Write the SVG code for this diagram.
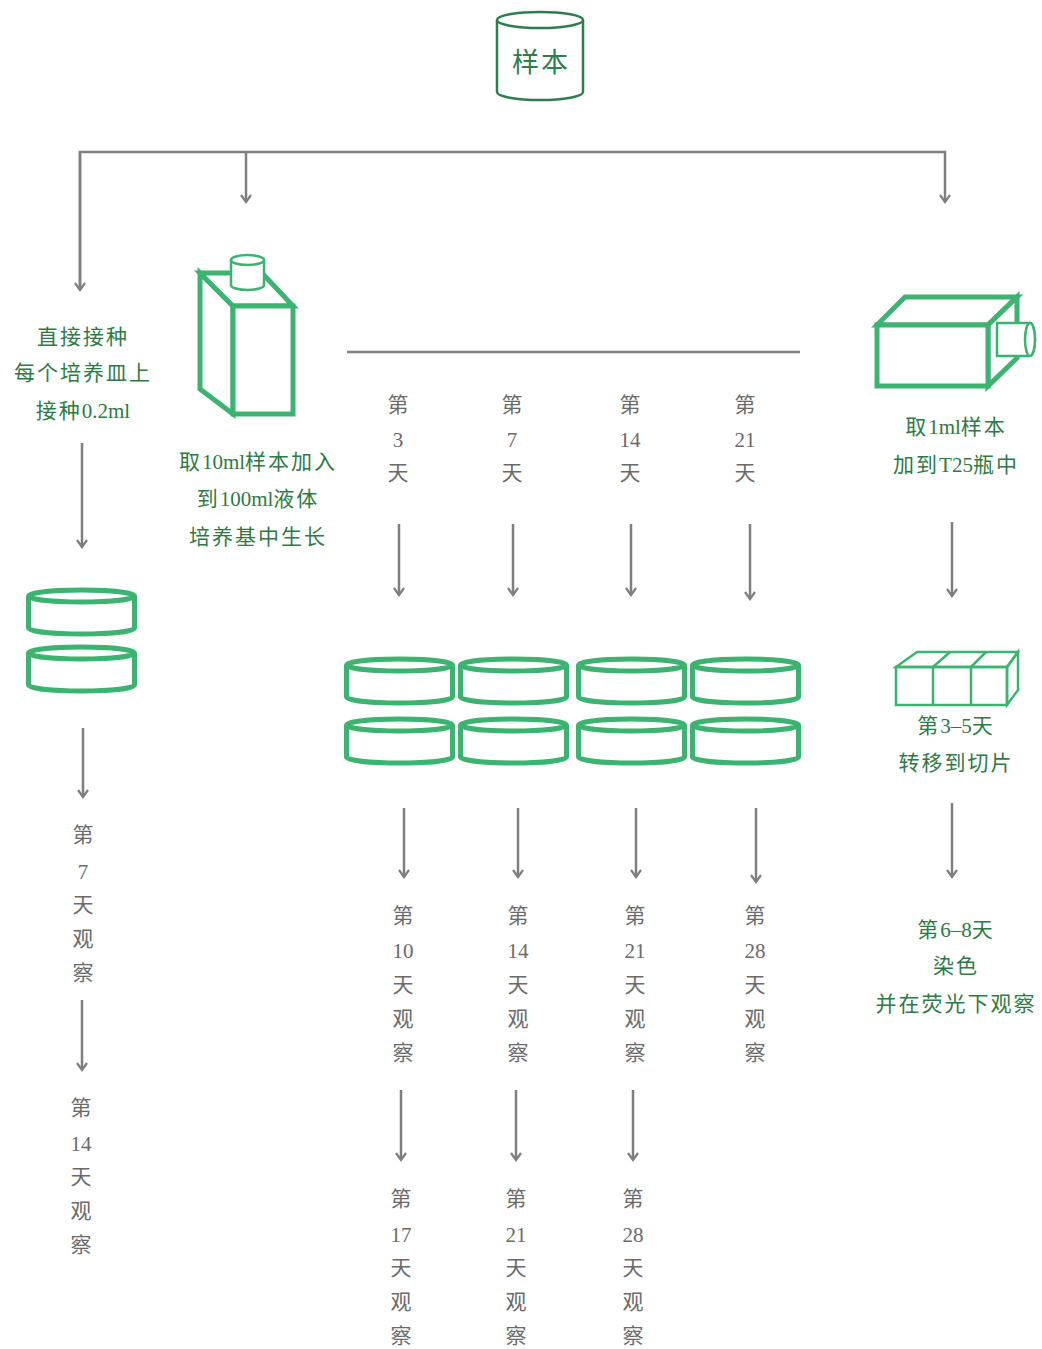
<svg xmlns="http://www.w3.org/2000/svg" width="1042" height="1349" viewBox="0 0 1042 1349">
  <style>
    .ln { fill: none; stroke: #7f7f7f; stroke-width: 2.5; }
    .ar { marker-end: url(#chev); }
    .gs { fill: #ffffff; stroke: #3cb371; stroke-width: 5; stroke-linejoin: miter; }
    .gt { fill: none; stroke: #3cb371; stroke-width: 2.5; }
    .tg { font-family: "Liberation Serif", "Noto Sans CJK SC", serif; font-size: 21px; fill: #2e7a45; text-anchor: middle; letter-spacing: 2px; }
    .tg .lat { letter-spacing: 0; }
    .tk { font-family: "Liberation Serif", "Noto Sans CJK SC", serif; font-size: 21px; fill: #6a6a6a; text-anchor: middle; }
  </style>
  <defs>
    <marker id="chev" viewBox="0 0 10 12" refX="8" refY="6" markerWidth="10" markerHeight="12" orient="auto" markerUnits="userSpaceOnUse">
      <path d="M1,1 L8,6 L1,11" fill="none" stroke="#7f7f7f" stroke-width="2.2"/>
    </marker>
    <!-- petri dish: top ellipse + side walls + bottom arc -->
    <g id="dish">
      <path d="M0,0 L0,32 A53,6 0 0 0 106,32 L106,0" fill="#fff" stroke="#3cb371" stroke-width="5"/>
      <ellipse cx="53" cy="0" rx="53" ry="6" fill="#fff" stroke="#3cb371" stroke-width="5"/>
    </g>
  </defs>

  <!-- connectors -->
  <g id="connectors">
    <polyline class="ln" points="80,290 80,152 945,152 945,202" marker-end="url(#chev)"/>
    <line class="ln ar" x1="80" y1="152" x2="80" y2="290"/>
    <line class="ln ar" x1="246" y1="152" x2="246" y2="202"/>
    <line class="ln" x1="347" y1="352" x2="800" y2="352"/>

    <line class="ln ar" x1="82" y1="443" x2="82" y2="547"/>
    <line class="ln ar" x1="83" y1="728" x2="83" y2="797"/>
    <line class="ln ar" x1="82" y1="1000" x2="82" y2="1070"/>

    <line class="ln ar" x1="399" y1="524" x2="399" y2="595"/>
    <line class="ln ar" x1="513" y1="524" x2="513" y2="595"/>
    <line class="ln ar" x1="631" y1="524" x2="631" y2="595"/>
    <line class="ln ar" x1="750" y1="524" x2="750" y2="599"/>

    <line class="ln ar" x1="404" y1="808" x2="404" y2="877"/>
    <line class="ln ar" x1="518" y1="808" x2="518" y2="877"/>
    <line class="ln ar" x1="636" y1="808" x2="636" y2="877"/>
    <line class="ln ar" x1="756" y1="808" x2="756" y2="882"/>

    <line class="ln ar" x1="401" y1="1090" x2="401" y2="1160"/>
    <line class="ln ar" x1="516" y1="1090" x2="516" y2="1160"/>
    <line class="ln ar" x1="633" y1="1090" x2="633" y2="1160"/>

    <line class="ln ar" x1="952" y1="522" x2="952" y2="596"/>
    <line class="ln ar" x1="952" y1="803" x2="952" y2="877"/>
  </g>

  <!-- sample cylinder -->
  <g id="sample">
    <path d="M497,20 L497,92 A43,8 0 0 0 583,92 L583,20" fill="#fff" stroke="#2e7d4f" stroke-width="2.5"/>
    <ellipse cx="540" cy="20" rx="43" ry="8" fill="#fff" stroke="#2e7d4f" stroke-width="2.5"/>
    <text x="541" y="72" font-family="'Noto Sans CJK SC', sans-serif" font-size="27" fill="#2e7d4f" text-anchor="middle" letter-spacing="2">样本</text>
  </g>

  <!-- direct inoculation branch -->
  <g id="direct-label">
    <text class="tg" x="83" y="344">直接接种</text>
    <text class="tg" x="83" y="380">每个培养皿上</text>
    <text class="tg" x="83" y="418">接种<tspan class="lat">0.2ml</tspan></text>
  </g>
  <g id="direct-dishes">
    <use href="#dish" x="28.5" y="596"/>
    <use href="#dish" x="28.5" y="653"/>
  </g>
  <g id="direct-day7">
    <text class="tk" x="83" y="842">第</text>
    <text class="tk" x="83" y="879">7</text>
    <text class="tk" x="83" y="912">天</text>
    <text class="tk" x="83" y="946">观</text>
    <text class="tk" x="83" y="980">察</text>
  </g>
  <g id="direct-day14">
    <text class="tk" x="81" y="1115">第</text>
    <text class="tk" x="81" y="1151">14</text>
    <text class="tk" x="81" y="1184">天</text>
    <text class="tk" x="81" y="1218">观</text>
    <text class="tk" x="81" y="1252">察</text>
  </g>

  <!-- liquid medium bottle -->
  <g id="bottle">
    <path class="gs" d="M200,273 L233,306 L233,414 L200,389 Z"/>
    <path class="gs" d="M200,273 L262,273 L293,306 L233,306 Z"/>
    <rect class="gs" x="233" y="306" width="60" height="108"/>
    <path d="M231,260 L231,285 A16.5,5 0 0 0 264,285 L264,260" fill="#fff" stroke="#3cb371" stroke-width="2.5"/>
    <ellipse cx="247.5" cy="260" rx="16.5" ry="5" fill="#fff" stroke="#3cb371" stroke-width="2.5"/>
  </g>
  <g id="bottle-label">
    <text class="tg" x="258" y="469">取<tspan class="lat">10ml</tspan>样本加入</text>
    <text class="tg" x="258" y="506">到<tspan class="lat">100ml</tspan>液体</text>
    <text class="tg" x="258" y="544">培养基中生长</text>
  </g>

  <!-- subculture day labels -->
  <g id="sub-days">
    <text class="tk" x="398" y="412">第</text><text class="tk" x="398" y="447">3</text><text class="tk" x="398" y="480">天</text>
    <text class="tk" x="512" y="412">第</text><text class="tk" x="512" y="447">7</text><text class="tk" x="512" y="480">天</text>
    <text class="tk" x="630" y="412">第</text><text class="tk" x="630" y="447">14</text><text class="tk" x="630" y="480">天</text>
    <text class="tk" x="745" y="412">第</text><text class="tk" x="745" y="447">21</text><text class="tk" x="745" y="480">天</text>
  </g>

  <!-- subculture dishes -->
  <g id="sub-dishes">
    <use href="#dish" x="346.5" y="665"/>
    <use href="#dish" x="460.5" y="665"/>
    <use href="#dish" x="578.5" y="665"/>
    <use href="#dish" x="692.5" y="665"/>
    <use href="#dish" x="346.5" y="725"/>
    <use href="#dish" x="460.5" y="725"/>
    <use href="#dish" x="578.5" y="725"/>
    <use href="#dish" x="692.5" y="725"/>
  </g>

  <!-- first observation -->
  <g id="obs-1">
    <text class="tk" x="403" y="923">第</text><text class="tk" x="403" y="958">10</text><text class="tk" x="403" y="992">天</text><text class="tk" x="403" y="1026">观</text><text class="tk" x="403" y="1060">察</text>
    <text class="tk" x="518" y="923">第</text><text class="tk" x="518" y="958">14</text><text class="tk" x="518" y="992">天</text><text class="tk" x="518" y="1026">观</text><text class="tk" x="518" y="1060">察</text>
    <text class="tk" x="635" y="923">第</text><text class="tk" x="635" y="958">21</text><text class="tk" x="635" y="992">天</text><text class="tk" x="635" y="1026">观</text><text class="tk" x="635" y="1060">察</text>
    <text class="tk" x="755" y="923">第</text><text class="tk" x="755" y="958">28</text><text class="tk" x="755" y="992">天</text><text class="tk" x="755" y="1026">观</text><text class="tk" x="755" y="1060">察</text>
  </g>

  <!-- second observation -->
  <g id="obs-2">
    <text class="tk" x="401" y="1206">第</text><text class="tk" x="401" y="1242">17</text><text class="tk" x="401" y="1275">天</text><text class="tk" x="401" y="1309">观</text><text class="tk" x="401" y="1343">察</text>
    <text class="tk" x="516" y="1206">第</text><text class="tk" x="516" y="1242">21</text><text class="tk" x="516" y="1275">天</text><text class="tk" x="516" y="1309">观</text><text class="tk" x="516" y="1343">察</text>
    <text class="tk" x="633" y="1206">第</text><text class="tk" x="633" y="1242">28</text><text class="tk" x="633" y="1275">天</text><text class="tk" x="633" y="1309">观</text><text class="tk" x="633" y="1343">察</text>
  </g>

  <!-- T25 flask -->
  <g id="t25-flask">
    <path class="gs" d="M877,325 L905,297 L1017,297 L988,325 Z"/>
    <path class="gs" d="M988,325 L1017,297 L1017,358 L988,386 Z"/>
    <rect class="gs" x="877" y="325" width="111" height="61"/>
    <path d="M997,323 L1030,323 A5,16.5 0 0 1 1030,356 L997,356 Z" fill="#fff" stroke="#3cb371" stroke-width="2.5"/>
    <ellipse cx="1030" cy="339.5" rx="5" ry="16.5" fill="#fff" stroke="#3cb371" stroke-width="2.5"/>
  </g>
  <g id="t25-label">
    <text class="tg" x="956" y="434">取<tspan class="lat">1ml</tspan>样本</text>
    <text class="tg" x="956" y="472">加到<tspan class="lat">T25</tspan>瓶中</text>
  </g>

  <!-- slide chambers -->
  <g id="slide">
    <path class="gt" d="M896,667 L917,652 L1018,652 L1007,667 Z" fill="#fff"/>
    <path class="gt" d="M1007,667 L1018,652 L1018,690 L1007,705 Z" fill="#fff"/>
    <rect class="gt" x="896" y="667" width="111" height="38" fill="#fff"/>
    <line class="gt" x1="933" y1="667" x2="933" y2="705"/>
    <line class="gt" x1="971" y1="667" x2="971" y2="705"/>
    <line class="gt" x1="933" y1="667" x2="950" y2="652"/>
    <line class="gt" x1="971" y1="667" x2="986" y2="652"/>
  </g>
  <g id="slide-label">
    <text class="tg" x="956" y="733">第<tspan class="lat">3–5</tspan>天</text>
    <text class="tg" x="956" y="770">转移到切片</text>
  </g>

  <!-- staining -->
  <g id="stain-label">
    <text class="tg" x="956" y="937">第<tspan class="lat">6–8</tspan>天</text>
    <text class="tg" x="956" y="973">染色</text>
    <text class="tg" x="956" y="1011">并在荧光下观察</text>
  </g>
</svg>
